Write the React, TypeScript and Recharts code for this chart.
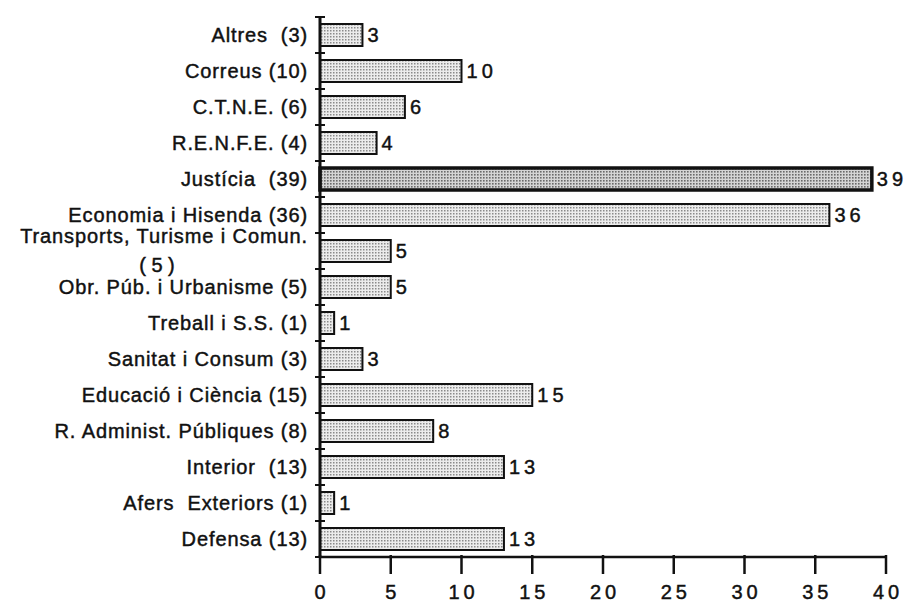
import React from "react";
import { BarChart, Bar, XAxis, YAxis, Cell, LabelList } from "recharts";

const categories = [
  "Altres  (3)",
  "Correus (10)",
  "C.T.N.E. (6)",
  "R.E.N.F.E. (4)",
  "Justícia  (39)",
  "Economia i Hisenda (36)",
  "Transports, Turisme i Comun.|( 5 )",
  "Obr. Púb. i Urbanisme (5)",
  "Treball i S.S. (1)",
  "Sanitat i Consum (3)",
  "Educació i Ciència (15)",
  "R. Administ. Públiques (8)",
  "Interior  (13)",
  "Afers  Exteriors (1)",
  "Defensa (13)",
];
const values = [3, 10, 6, 4, 39, 36, 5, 5, 1, 3, 15, 8, 13, 1, 13];
const xTicks = [0, 5, 10, 15, 20, 25, 30, 35, 40];

const data = categories.map((name, i) => ({ name, value: values[i] }));

const FONT = "'Liberation Sans', Arial, sans-serif";
const txt = { fontFamily: FONT, fontSize: 20, fill: "#111", stroke: "#111", strokeWidth: 0.45 };

// digits drawn with a gap between them, like the typewriter-style numbers
const spaced = (v: any) =>
  String(v)
    .split("")
    .map((c, i) => (
      <tspan key={i} dx={i === 0 ? 0 : 4}>
        {c}
      </tspan>
    ));

const YTick = (props: any) => {
  const { x, y, payload, index } = props;
  const ax = x + 12;
  const parts = String(payload.value).split("|");
  return (
    <g>
      {index === 0 && <line x1={ax - 5} x2={ax + 5} y1={y - 18} y2={y - 18} stroke="#111" strokeWidth={2} />}
      <line x1={ax - 5} x2={ax + 5} y1={y + 18} y2={y + 18} stroke="#111" strokeWidth={2} />
      {parts.length === 1 ? (
        <text x={x} y={y} dy={7} textAnchor="end" letterSpacing={0.9} style={{ whiteSpace: "pre" }} {...txt}>
          {parts[0]}
        </text>
      ) : (
        <>
          <text x={x} y={y} dy={-8} textAnchor="end" letterSpacing={0.9} {...txt}>
            {parts[0]}
          </text>
          <text x={x - 151} y={y} dy={21} textAnchor="middle" style={{ whiteSpace: "pre" }} {...txt}>
            {parts[1]}
          </text>
        </>
      )}
    </g>
  );
};

const XTick = (props: any) => {
  const { x, y, payload } = props;
  return (
    <g>
      <line x1={x} x2={x} y1={y - 10} y2={y + 9} stroke="#111" strokeWidth={2.5} />
      <text x={x} y={y + 34} textAnchor="middle" {...txt}>
        {spaced(payload.value)}
      </text>
    </g>
  );
};

const ValueLabel = (props: any) => {
  const { x, y, width, height, value } = props;
  return (
    <text x={x + width + 5} y={y + height / 2 + 7} {...txt}>
      {spaced(value)}
    </text>
  );
};

export default function App() {
  return (
    <div style={{ position: "absolute", left: 0, top: 0, background: "#fff" }}>
      <BarChart
        width={907}
        height={603}
        data={data}
        layout="vertical"
        margin={{ top: 17, right: 21, bottom: 0, left: 0 }}
        barSize={22}
      >
        <defs>
          <pattern id="dots" width="3" height="3" patternUnits="userSpaceOnUse">
            <rect width="3" height="3" fill="#ececec" />
            <rect width="1.5" height="1.5" fill="#8a8a8a" />
          </pattern>
          <pattern id="dotsDark" width="3" height="3" patternUnits="userSpaceOnUse">
            <rect width="3" height="3" fill="#d4d4d4" />
            <rect width="1.6" height="1.6" fill="#6a6a6a" />
          </pattern>
        </defs>
        <XAxis
          type="number"
          domain={[0, 40]}
          ticks={xTicks}
          interval={0}
          height={46}
          axisLine={{ stroke: "#111", strokeWidth: 2.5 }}
          tickLine={false}
          tick={<XTick />}
        />
        <YAxis
          type="category"
          dataKey="name"
          width={320}
          interval={0}
          axisLine={{ stroke: "#111", strokeWidth: 3 }}
          tickLine={false}
          tickSize={0}
          tickMargin={12}
          tick={<YTick />}
        />
        <Bar dataKey="value" isAnimationActive={false} stroke="#111" strokeWidth={2}>
          {data.map((d, i) => (
            <Cell
              key={i}
              fill={d.value === 39 ? "url(#dotsDark)" : "url(#dots)"}
              strokeWidth={d.value === 39 ? 3.5 : 2}
            />
          ))}
          <LabelList dataKey="value" content={<ValueLabel />} />
        </Bar>
      </BarChart>
    </div>
  );
}
